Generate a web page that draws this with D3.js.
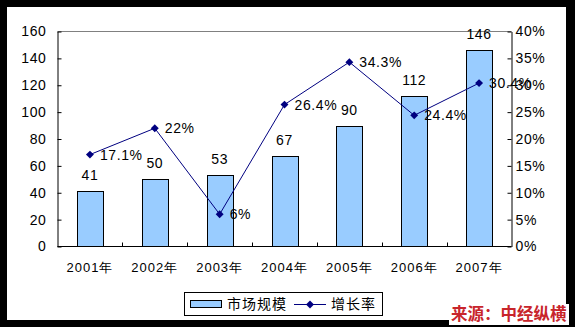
<!DOCTYPE html>
<html><head><meta charset="utf-8">
<script src="https://cdn.jsdelivr.net/npm/d3@7"></script>
<style>body{margin:0;background:#000;}svg{display:block;}</style>
</head><body>
<svg id="c" width="575" height="327"></svg>
<script>
const years = ["2001年","2002年","2003年","2004年","2005年","2006年","2007年"];
const marketSize = [41,50,53,67,90,112,146];
const growthRate = [17.1,22,6,26.4,34.3,24.4,30.4];
const leftTicks = [0,20,40,60,80,100,120,140,160];
const rightTicks = [0,5,10,15,20,25,30,35,40];
const seriesNames = ["市场规模","增长率"];
const sourceText = "来源：中经纵横";

const svg = d3.select("#c");
const font = "Arial, 'Liberation Sans', sans-serif";
svg.append("rect").attr("x",0).attr("y",0).attr("width",575).attr("height",327).attr("fill","#000");
svg.append("rect").attr("x",7).attr("y",7).attr("width",559).attr("height",313).attr("fill","#fff");

const L=57.5, R=511.5, T=31.5, B=246.5;
const x = d3.scaleBand().domain(years).range([L,R]);
const yL = d3.scaleLinear().domain([0,160]).range([B,T]);
const yR = d3.scaleLinear().domain([0,40]).range([B,T]);

// top border
svg.append("line").attr("x1",L).attr("x2",R).attr("y1",T).attr("y2",T).attr("stroke","#808080").attr("stroke-width",1);

// bars
const bw = x.bandwidth()*0.4;
svg.selectAll("rect.bar").data(marketSize).enter().append("rect").attr("class","bar")
  .attr("x",(d,i)=>Math.round(x(years[i])+x.bandwidth()/2-bw/2)+0.5)
  .attr("y",d=>Math.round(yL(d))+0.5)
  .attr("width",Math.round(bw))
  .attr("height",d=>B-Math.round(yL(d))-0.5)
  .attr("fill","#99CCFF").attr("stroke","#000").attr("stroke-width",1);

// axes
const axL = svg.append("g").attr("transform",`translate(${L},0)`)
  .call(d3.axisLeft(yL).tickValues(leftTicks).tickSizeInner(-4).tickSizeOuter(0).tickPadding(11));
const axR = svg.append("g").attr("transform",`translate(${R},0)`)
  .call(d3.axisRight(yR).tickValues(rightTicks).tickSizeInner(-4).tickSizeOuter(0).tickPadding(11).tickFormat(d=>d+"%"));
[axL,axR].forEach(a=>{
  a.select(".domain").attr("stroke","#000");
  a.selectAll(".tick line").attr("stroke","#000");
  a.selectAll("text").attr("font-family",font).attr("font-size",14).attr("fill","#000").attr("letter-spacing",0.6);
});
axR.selectAll("text").attr("dx",-7);

// bottom axis
const boundaries = years.map(y=>x(y)).concat([R]);
svg.append("line").attr("x1",L).attr("x2",R).attr("y1",B).attr("y2",B).attr("stroke","#000");
svg.selectAll("line.bt").data(boundaries.slice(1,-1)).enter().append("line").attr("class","bt")
  .attr("x1",d=>Math.round(d)+0.5).attr("x2",d=>Math.round(d)+0.5).attr("y1",B).attr("y2",B-4).attr("stroke","#000");
svg.selectAll("text.xl").data(years).enter().append("text").attr("class","xl")
  .attr("x",d=>x(d)+x.bandwidth()/2).attr("y",272).attr("text-anchor","middle")
  .attr("font-family",font).attr("font-size",13).attr("letter-spacing",1).attr("fill","#000").text(d=>d);

// bar labels
svg.selectAll("text.bl").data(marketSize).enter().append("text").attr("class","bl")
  .attr("x",(d,i)=>x(years[i])+x.bandwidth()/2).attr("y",d=>yL(d)-11)
  .attr("text-anchor","middle").attr("font-family",font).attr("font-size",14).attr("letter-spacing",0.6).attr("fill","#000").text(d=>d);

// line
const cx = (i)=>x(years[i])+x.bandwidth()/2;
svg.append("path").datum(growthRate)
  .attr("d",d3.line().x((d,i)=>cx(i)).y(d=>yR(d)))
  .attr("fill","none").attr("stroke","#000080").attr("stroke-width",1);
const diamond = d3.symbol().type(d3.symbolDiamond2).size(40);
svg.selectAll("path.mk").data(growthRate).enter().append("path").attr("class","mk")
  .attr("transform",(d,i)=>`translate(${cx(i)},${yR(d)})`).attr("d",diamond).attr("fill","#000080");
svg.selectAll("text.ll").data(growthRate).enter().append("text").attr("class","ll")
  .attr("x",(d,i)=>cx(i)+10).attr("y",d=>yR(d)+5)
  .attr("font-family",font).attr("font-size",14).attr("letter-spacing",0.6).attr("fill","#000").text(d=>d+"%");

// legend
const lg = svg.append("g");
lg.append("rect").attr("x",184.5).attr("y",292.5).attr("width",198).attr("height",23).attr("fill","#fff").attr("stroke","#000");
lg.append("rect").attr("x",190.5).attr("y",300.5).attr("width",31).attr("height",7).attr("fill","#99CCFF").attr("stroke","#000");
lg.append("text").attr("x",227).attr("y",309).attr("font-family","'Noto Sans CJK SC', sans-serif").attr("font-size",14).attr("letter-spacing",1).attr("fill","#000").text(seriesNames[0]);
lg.append("line").attr("x1",294).attr("x2",326).attr("y1",304.5).attr("y2",304.5).attr("stroke","#000080");
lg.append("path").attr("transform","translate(310,304.5)").attr("d",diamond).attr("fill","#000080");
lg.append("text").attr("x",331).attr("y",309).attr("font-family","'Noto Sans CJK SC', sans-serif").attr("font-size",14).attr("letter-spacing",1).attr("fill","#000").text(seriesNames[1]);

// source
svg.append("rect").attr("x",449).attr("y",304).attr("width",120).attr("height",21).attr("fill","#fff");
svg.append("text").attr("x",451).attr("y",320).attr("font-family","'Noto Sans CJK SC', sans-serif").attr("font-weight","bold")
  .attr("font-size",16.5).attr("fill","#C8252B").text(sourceText);
</script>
</body></html>
